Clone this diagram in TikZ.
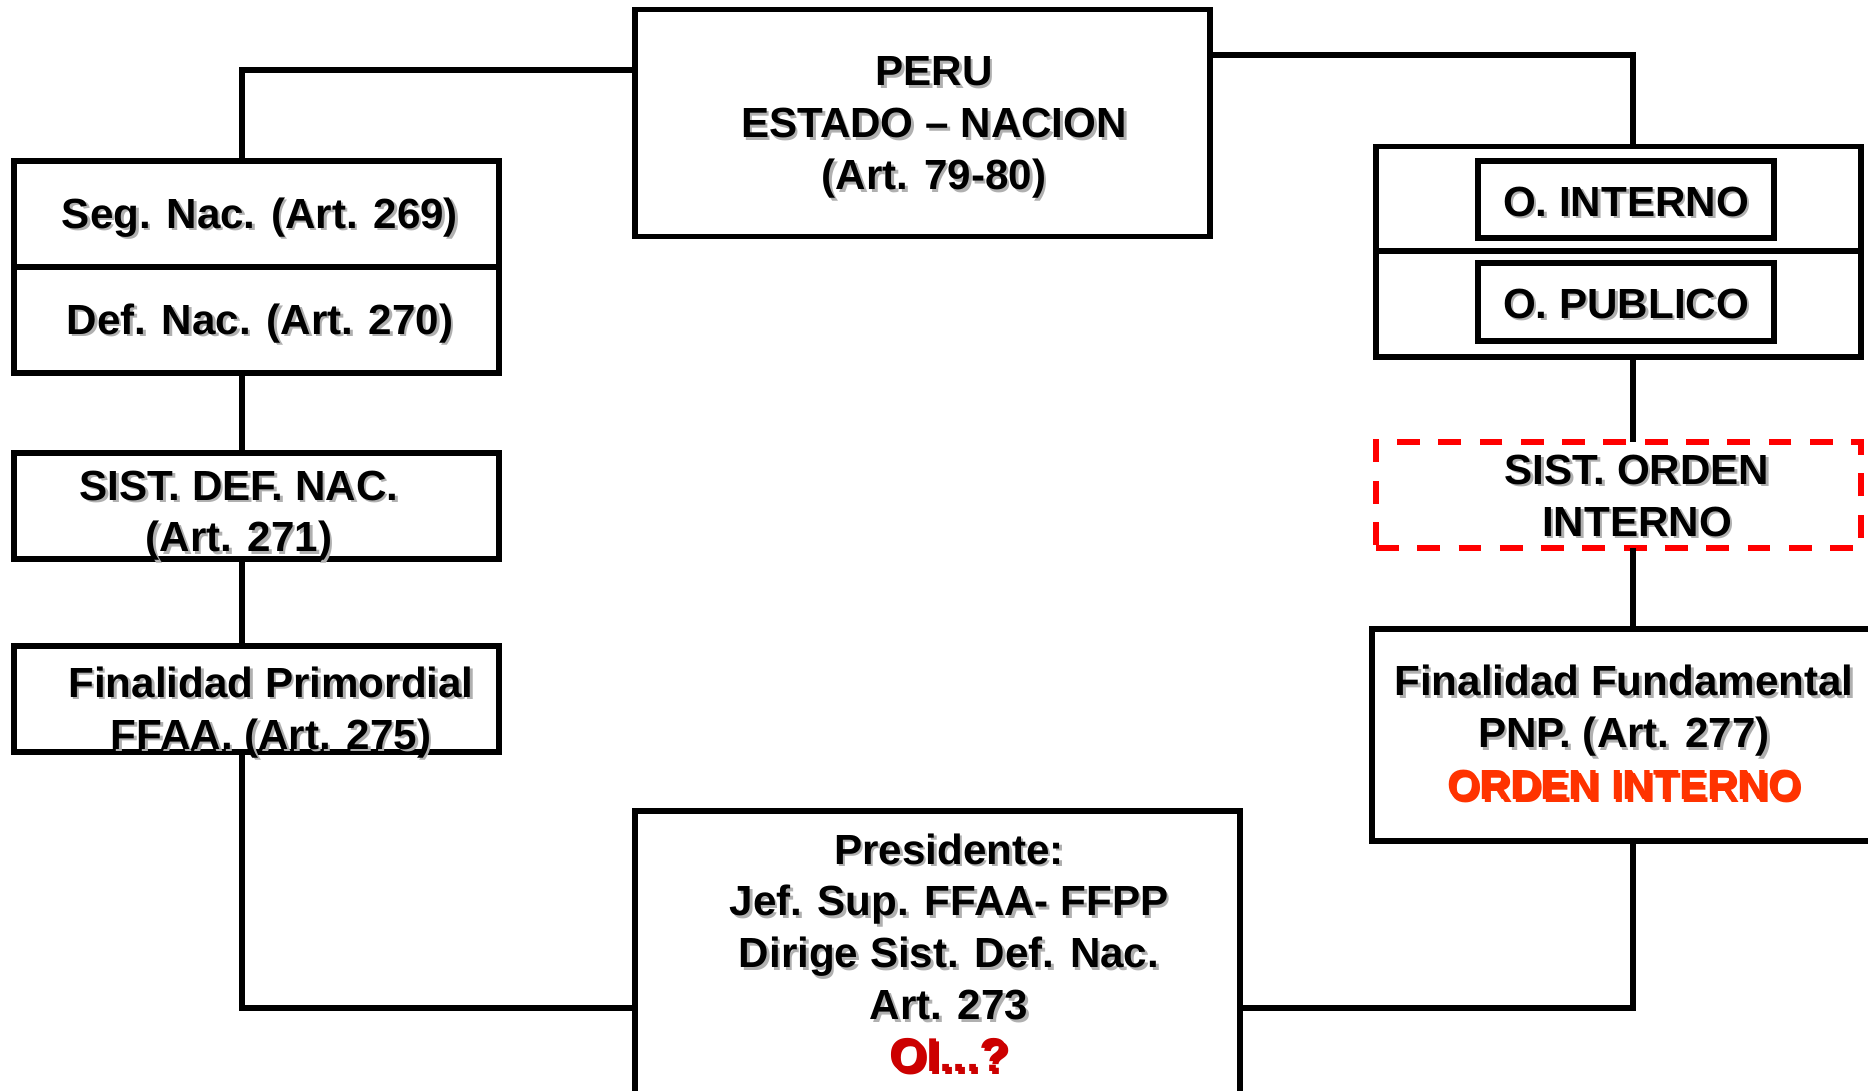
\documentclass[tikz,border=0pt]{standalone}
\usepackage{fontspec}
\setmainfont{Liberation Sans}
\definecolor{oired}{HTML}{CC0000}
\definecolor{oiorange}{HTML}{FF3300}
\definecolor{shadowgray}{HTML}{B0B0B0}
\newcommand\shd[1]{\leavevmode\rlap{\kern1.5pt\raisebox{-1.5pt}{\textcolor{shadowgray}{#1}}}#1}
\begin{document}
\begin{tikzpicture}[x=0.02cm,y=-0.02cm,
  mybox/.style 2 args={draw=black, line width=3.1pt, minimum width=#1*0.02cm, minimum height=#2*0.02cm, inner sep=0pt, outer sep=0pt},
  dashbox/.style 2 args={mybox={#1}{#2}, draw=red, dash pattern=on 13pt off 10.5pt},
  conn/.style={line width=3.1pt, draw=black},
  lbl/.style={font=\fontsize{24}{29.5}\selectfont\bfseries, align=center, inner sep=0pt, text=black}]
\useasboundingbox (0,0) rectangle (1868,1090);
\clip (0,0) rectangle (1868,1090);
\fill[white] (0,0) rectangle (1868,1090);

% boxes
\node[mybox={575}{227.5}] (peru) at (922.5,123) {};
\node[mybox={485}{106}] (seg) at (256.5,214) {};
\node[mybox={485}{106}] (def) at (256.5,320) {};
\node[mybox={485}{106}] (sdn) at (256.5,506) {};
\node[mybox={485}{106}] (fp) at (256.5,699) {};
\node[mybox={605}{289}] (pres) at (937.5,955.5) {};
\node[mybox={485}{104.5}] (oint) at (1618.5,199) {};
\node[mybox={485}{106}] (opub) at (1618.5,304) {};
\node[mybox={296}{77}] (ointi) at (1626,199.5) {};
\node[mybox={296}{78}] (opubi) at (1626,302) {};
\node[dashbox={485}{106}] (soi) at (1618.5,495) {};
\node[mybox={508}{212}] (ff) at (1626,735) {};

% connectors
\coordinate (lx) at (242,0);
\coordinate (rx) at (1633,0);
\coordinate (yl) at (0,70);
\coordinate (yr) at (0,55);
\coordinate (yb) at (0,1008);
\draw[conn] (peru.west |- yl) -| (lx |- seg.north);
\draw[conn] (lx |- def.south) -- (lx |- sdn.north);
\draw[conn] (lx |- sdn.south) -- (lx |- fp.north);
\draw[conn] (lx |- fp.south) |- (pres.west |- yb);
\draw[conn] (peru.east |- yr) -| (rx |- oint.north);
\draw[conn] (rx |- opub.south) -- (rx |- soi.north);
\draw[conn] (rx |- soi.south) -- (rx |- ff.north);
\draw[conn] (rx |- ff.south) |- (pres.east |- yb);

% labels
\node[lbl] (tperu) at (934,129) {\shd{PERU}\\\shd{ESTADO – NACION}\\\shd{(Art. 79-80)}};
\node[lbl] (tseg) at (260,218.5) {\shd{Seg. Nac. (Art. 269)}};
\node[lbl] (tdef) at (260,324.5) {\shd{Def. Nac. (Art. 270)}};
\node[lbl] (tsdn) at (239,517) {\shd{SIST. DEF. NAC.}\\\shd{(Art. 271)}};
\node[lbl] (tfp) at (271,713.5) {\shd{Finalidad Primordial}\\\shd{FFAA. (Art. 275)}};
\node[lbl] (tpres) at (949,954) {\shd{Presidente:}\\\shd{Jef. Sup. FFAA- FFPP}\\\shd{Dirige Sist. Def. Nac.}\\\shd{Art. 273}\\{\fontsize{27}{29.5}\selectfont\shd{\textcolor{oired}{OI...?}}}};
\node[lbl] (toint) at (1626,203) {\shd{O. INTERNO}};
\node[lbl] (topub) at (1626,305) {\shd{O. PUBLICO}};
\node[lbl] (tsoi) at (1637,497) {\shd{SIST. ORDEN}\\\shd{INTERNO}};
\node[lbl] (tff) at (1624,734) {\shd{Finalidad Fundamental}\\\shd{PNP. (Art. 277)}\\\shd{\textcolor{oiorange}{ORDEN INTERNO}}};
\end{tikzpicture}
\end{document}
